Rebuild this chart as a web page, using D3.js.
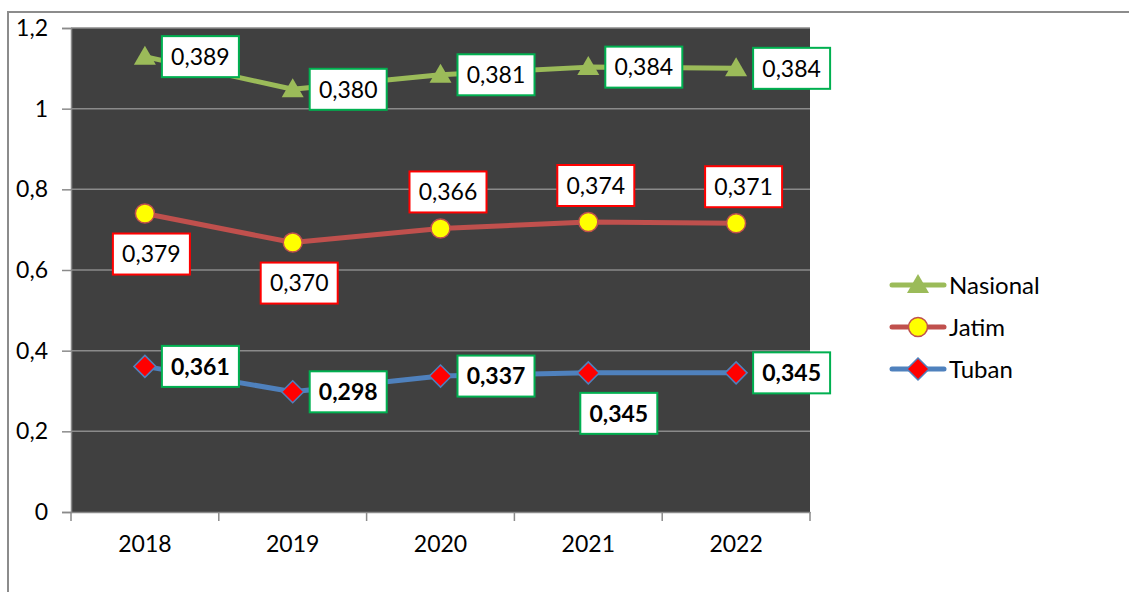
<!DOCTYPE html>
<html>
<head>
<meta charset="utf-8">
<script src="https://cdn.jsdelivr.net/npm/d3@7"></script>
<style>
  body { margin: 0; background: #fff; }
  svg { display: block; font-family: Lato, "Open Sans", sans-serif; }
</style>
</head>
<body>
<div id="chart"></div>
<script>
// data (values shown on the labels, lines are stacked)
const years = ["2018", "2019", "2020", "2021", "2022"];
const tuban = [0.361, 0.298, 0.337, 0.345, 0.345];
const jatim = [0.379, 0.370, 0.366, 0.374, 0.371];
const nasional = [0.389, 0.380, 0.381, 0.384, 0.384];
const yTicks = [0, 0.2, 0.4, 0.6, 0.8, 1, 1.2];

// where each data label sits relative to its point
const tubanPlace = ["right", "right", "right", "below", "right"];
const jatimPlace = ["below", "below", "above", "above", "above"];
const nasionalPlace = ["right", "right", "right", "right", "right"];

const width = 1129, height = 592;
const plot = { left: 71, right: 810, top: 28, bottom: 512 };

const svg = d3.select("#chart").append("svg")
    .attr("width", width)
    .attr("height", height);

// outer chart border
svg.append("path")
    .attr("d", `M8,${height} V12 H${width}`)
    .attr("fill", "none")
    .attr("stroke", "#8c8c8c")
    .attr("stroke-width", 2);

const x = d3.scaleBand().domain(years).range([plot.left, plot.right]);
const y = d3.scaleLinear().domain([0, 1.2]).range([plot.bottom, plot.top]);

svg.append("rect")
    .attr("x", plot.left).attr("y", plot.top)
    .attr("width", plot.right - plot.left)
    .attr("height", plot.bottom - plot.top)
    .attr("fill", "#404040");

// gridlines
svg.append("g")
    .selectAll("line")
    .data(yTicks.slice(1))
    .enter().append("line")
    .attr("x1", plot.left).attr("x2", plot.right)
    .attr("y1", d => y(d)).attr("y2", d => y(d))
    .attr("stroke", "#8a8a8a")
    .attr("stroke-width", 1.5);

const fmt = v => d3.format(".1~f")(v).replace(".", ",");

// y axis
const yAxis = svg.append("g")
    .attr("transform", `translate(${plot.left},0)`)
    .call(d3.axisLeft(y).tickValues(yTicks).tickSize(9).tickPadding(14).tickFormat(fmt));
yAxis.select(".domain").attr("stroke", "#8a8a8a").attr("stroke-width", 1.5);
yAxis.selectAll(".tick line").attr("stroke", "#8a8a8a").attr("stroke-width", 1.5);
yAxis.selectAll("text").attr("font-size", 23).attr("fill", "#000")
    .attr("font-family", "Lato, sans-serif");

// x axis with ticks on category borders
const xAxis = svg.append("g")
    .attr("transform", `translate(0,${plot.bottom})`)
    .call(d3.axisBottom(x).tickSize(0).tickPadding(24));
xAxis.select(".domain").attr("stroke", "#8a8a8a").attr("stroke-width", 1.5);
xAxis.selectAll("text").attr("font-size", 23).attr("fill", "#000")
    .attr("font-family", "Lato, sans-serif");
xAxis.selectAll(".border")
    .data(years.concat(["end"]))
    .enter().append("line")
    .attr("class", "border")
    .attr("x1", (d, i) => i < years.length ? x(d) : x.range()[1])
    .attr("x2", (d, i) => i < years.length ? x(d) : x.range()[1])
    .attr("y1", 0).attr("y2", 9)
    .attr("stroke", "#8a8a8a").attr("stroke-width", 1.5);

// stacked values
const s1 = tuban.slice();
const s2 = tuban.map((v, i) => v + jatim[i]);
const s3 = s2.map((v, i) => v + nasional[i]);

const series = [
  { name: "Nasional", vals: nasional, stack: s3, color: "#9bbb59", marker: "triangle", box: "#00b050", bold: false, place: nasionalPlace },
  { name: "Jatim", vals: jatim, stack: s2, color: "#c0504d", marker: "circle", box: "#ff0000", bold: false, place: jatimPlace },
  { name: "Tuban", vals: tuban, stack: s1, color: "#4f81bd", marker: "diamond", box: "#00b050", bold: true, place: tubanPlace }
];

const cx = d => x(d) + x.bandwidth() / 2;

const line = d3.line()
    .x(d => cx(d.year))
    .y(d => y(d.v));

function drawMarker(g, type, color) {
  if (type === "triangle") {
    g.append("path").attr("d", "M0,-11 L11,8 L-11,8 Z").attr("fill", color);
  } else if (type === "circle") {
    g.append("circle").attr("r", 9.5).attr("fill", "#ffff00")
        .attr("stroke", color).attr("stroke-width", 1.5);
  } else {
    g.append("path").attr("d", "M0,-11 L11,0 L0,11 L-11,0 Z").attr("fill", "#ff0000")
        .attr("stroke", color).attr("stroke-width", 1.5);
  }
}

series.forEach(s => {
  const pts = years.map((yr, i) => ({ year: yr, v: s.stack[i], label: s.vals[i], place: s.place[i] }));

  svg.append("path")
      .datum(pts)
      .attr("d", line)
      .attr("fill", "none")
      .attr("stroke", s.color)
      .attr("stroke-width", 5)
      .attr("stroke-linejoin", "round");

  pts.forEach(p => {
    const g = svg.append("g").attr("transform", `translate(${cx(p.year)},${y(p.v)})`);
    drawMarker(g, s.marker, s.color);
  });

  // data labels
  const bw = 77, bh = 41;
  pts.forEach(p => {
    const px = cx(p.year), py = y(p.v);
    let bx, by;
    if (p.place === "right") { bx = px + 17; by = py - bh / 2; }
    else if (p.place === "below") { bx = s.name === "Tuban" ? px - 8 : px - 32; by = py + 20; }
    else { bx = px - 31; by = py - 57; }
    const lg = svg.append("g").attr("transform", `translate(${bx},${by})`);
    lg.append("rect")
        .attr("x", 0).attr("y", 0)
        .attr("width", bw).attr("height", bh)
        .attr("fill", "#fff")
        .attr("stroke", s.box)
        .attr("stroke-width", 2);
    lg.append("text")
        .attr("x", bw / 2).attr("y", bh / 2)
        .attr("dy", "0.36em")
        .attr("text-anchor", "middle")
        .attr("font-size", 23)
        .attr("font-weight", s.bold ? "bold" : "normal")
        .attr("fill", "#000")
        .text(d3.format(".3f")(p.label).replace(".", ","));
  });
});

// legend
const legend = svg.append("g").attr("transform", "translate(890,285)");
series.forEach((s, i) => {
  const g = legend.append("g").attr("transform", `translate(0,${i * 42})`);
  g.append("line")
      .attr("x1", 2).attr("x2", 54)
      .attr("stroke", s.color).attr("stroke-width", 5)
      .attr("stroke-linecap", "round");
  const m = g.append("g").attr("transform", "translate(28,0)");
  drawMarker(m, s.marker, s.color);
  g.append("text")
      .attr("x", 59).attr("y", 0).attr("dy", "0.36em")
      .attr("font-size", 24)
      .attr("fill", "#000")
      .text(s.name);
});
</script>
</body>
</html>
